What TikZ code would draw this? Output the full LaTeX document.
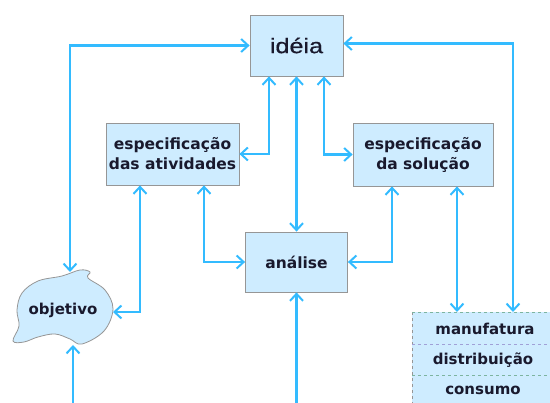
\documentclass[tikz,border=0pt]{standalone}
\usepackage{fontspec}
\usetikzlibrary{arrows.meta}
\newfontfamily\boxfont{DejaVu Sans}
\newfontfamily\ideafont{Liberation Sans}[FakeStretch=1.2,FakeBold=0.5]
\definecolor{arrowblue}{RGB}{51,187,255}
\definecolor{boxfill}{RGB}{206,236,255}
\definecolor{boxline}{RGB}{150,150,150}
\definecolor{txt}{RGB}{25,25,45}
\definecolor{sepA}{RGB}{160,160,215}
\definecolor{sepB}{RGB}{125,180,160}
\begin{document}
\begin{tikzpicture}[x=1pt,y=-1pt,
  box/.style={draw=boxline,fill=boxfill,line width=0.8pt,inner sep=0pt,text=txt,
    font=\boxfont\bfseries\fontsize{15.5}{20}\selectfont,align=center},
  tabtext/.style={text=txt,inner sep=0pt,font=\boxfont\bfseries\fontsize{15}{16}\selectfont},
  tip/.tip={Straight Barb[length=7pt,width=13pt,line width=2pt]},
  conn/.style={draw=arrowblue,line width=2.5pt,tip-tip},
  conn1/.style={draw=arrowblue,line width=2.5pt,-tip}
]
\useasboundingbox (0,0) rectangle (550,403);
\clip (0,0) rectangle (550,403);

% boxes
\node[box,minimum width=93pt,minimum height=61pt,
      font=\ideafont\fontsize{21}{24}\selectfont] (ideia) at (296.5,45.5) {idéia};
\node[box,minimum width=133pt,minimum height=62pt] (ativ) at (172.5,154) {especificação\\das atividades};
\node[box,minimum width=140pt,minimum height=63pt] (sol) at (423,154.5) {especificação\\da solução};
\node[box,minimum width=102pt,minimum height=60pt] (anal) at (296.5,262) {análise};

% cloud "objetivo"
\draw[draw=boxline,fill=boxfill,line width=0.8pt]
  plot[smooth cycle,tension=0.6] coordinates {(17,310) (22,293) (38,281) (62,276) (80,270)
  (90,272) (88,278) (105,290) (113,309) (104,331) (82,344) (70,339) (55,334) (38,337)
  (24,342) (13,341) (19,326)};
\node[text=txt,inner sep=0pt,font=\boxfont\bfseries\fontsize{15}{16}\selectfont] (obj) at (63,310) {objetivo};
\coordinate (objT) at (70,272);
\coordinate (objR) at (113,312);
\coordinate (objB) at (73,345);

% table
\node[fill=boxfill,draw=none,inner sep=0pt,minimum width=148pt,minimum height=100pt,anchor=north west] (tab) at (412,312) {};
\draw[boxline,dashed,line width=0.8pt] (tab.north west) -- (tab.south west);
\draw[sepB,dashed,line width=0.8pt] (tab.north west) -- (tab.north east);
\draw[sepA,dashed,line width=1pt] (412,345) -- (560,345);
\draw[sepB,dashed,line width=1pt] (412,376) -- (560,376);
\node[tabtext] (manu) at (485,329) {manufatura};
\node[tabtext] (dist) at (483,360.5) {distribuição};
\node[tabtext] (cons) at (483,390) {consumo};
\coordinate (tabA) at (457,312);
\coordinate (tabB) at (513,312);
\coordinate (bot1) at (296.5,410);
\coordinate (bot2) at (73,410);

% connectors
\draw[conn] (ideia.west) -| (objT);
\draw[conn] ([yshift=2pt]ideia.east) -| (tabB);
\draw[conn] ([xshift=-27.5pt]ideia.south) |- (ativ.east);
\draw[conn] (ideia.south) -- (anal.north);
\draw[conn] ([xshift=27.5pt]ideia.south) |- (sol.west);
\draw[conn] ([xshift=-32.5pt]ativ.south) |- (objR);
\draw[conn] ([xshift=31.5pt]ativ.south) |- (anal.west);
\draw[conn] (anal.east) -| ([xshift=-31pt]sol.south);
\draw[conn] ([xshift=34pt]sol.south) -- (tabA);
\draw[conn1] (bot1) -- (anal.south);
\draw[conn1] (bot2) -- (objB);
\end{tikzpicture}
\end{document}
